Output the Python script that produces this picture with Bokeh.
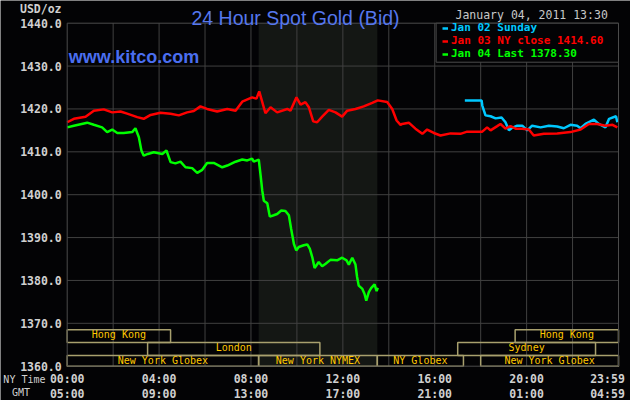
from bokeh.plotting import figure
from bokeh.models import Label, Legend, LegendItem
from bokeh.core.properties import value
from bokeh.embed import file_html
from bokeh.resources import INLINE

# ---------------- data (hours after 00:00 NY time, USD/oz) ----------------
jan02_h = [17.31, 18.04, 18.07, 18.21, 18.43, 18.65, 18.91, 19.08, 19.23, 19.37,
           19.59, 19.81, 20.03, 20.24, 20.61, 20.97, 21.33, 21.62, 21.91, 22.20,
           22.35, 22.56, 22.93, 23.14, 23.43, 23.59, 23.89, 23.95]
jan02_v = [1422.0, 1422.0, 1420.8, 1418.5, 1418.3, 1417.8, 1418.0, 1416.9, 1415.0, 1415.6,
           1416.1, 1416.1, 1415.0, 1416.1, 1415.7, 1416.1, 1415.9, 1415.5, 1416.3, 1416.1,
           1415.5, 1416.5, 1417.5, 1416.5, 1415.7, 1417.7, 1418.3, 1416.9]

jan03_h = [0.00, 0.29, 0.80, 1.16, 1.59, 1.96, 2.32, 2.61, 3.05, 3.33,
           3.63, 4.06, 4.50, 4.86, 5.22, 5.51, 5.80, 6.09, 6.53, 6.97,
           7.33, 7.62, 8.05, 8.24, 8.36, 8.45, 8.63, 8.85, 9.14, 9.58,
           9.72, 9.98, 10.16, 10.37, 10.52, 10.71, 10.88, 11.10, 11.39, 11.68,
           11.97, 12.19, 12.55, 12.91, 13.28, 13.52, 13.93, 14.15, 14.34, 14.51,
           14.58, 14.87, 15.16, 15.46, 15.67, 15.96, 16.25, 16.69, 17.12, 17.41,
           18.07, 18.28, 18.43, 18.72, 18.86, 19.08, 19.30, 19.52, 19.81, 20.10,
           20.31, 20.75, 21.33, 21.91, 22.35, 22.71, 23.07, 23.43, 23.74, 23.95]
jan03_v = [1416.9, 1417.7, 1418.2, 1419.6, 1419.9, 1419.2, 1419.4, 1418.9, 1418.1, 1417.7,
           1418.6, 1419.1, 1418.9, 1418.5, 1419.2, 1419.5, 1420.6, 1420.0, 1419.4, 1420.0,
           1419.6, 1421.7, 1422.7, 1422.4, 1424.1, 1422.4, 1419.0, 1420.4, 1419.2, 1420.0,
           1419.6, 1422.7, 1421.0, 1421.6, 1420.4, 1417.1, 1416.9, 1418.2, 1419.8, 1419.2,
           1418.2, 1419.6, 1420.0, 1420.6, 1421.4, 1422.0, 1421.6, 1420.0, 1417.3, 1416.3,
           1416.5, 1416.8, 1415.4, 1414.2, 1415.2, 1414.4, 1413.8, 1414.3, 1414.2, 1414.7,
           1414.7, 1415.7, 1415.0, 1416.0, 1416.5, 1415.4, 1416.0, 1415.4, 1415.4, 1415.2,
           1413.8, 1414.2, 1414.3, 1414.6, 1415.2, 1416.5, 1416.5, 1416.1, 1416.3, 1415.7]

jan04_h = [0.00, 0.29, 0.87, 1.16, 1.52, 1.74, 1.96, 2.18, 2.46, 2.83,
           2.97, 3.12, 3.23, 3.33, 3.51, 3.77, 4.14, 4.32, 4.50, 4.71,
           4.93, 5.15, 5.44, 5.66, 5.88, 6.09, 6.38, 6.75, 6.97, 7.33,
           7.62, 7.84, 8.05, 8.12, 8.34, 8.42, 8.49, 8.56, 8.71, 8.82,
           8.99, 9.14, 9.32, 9.50, 9.65, 9.75, 9.87, 9.97, 10.08, 10.30,
           10.45, 10.56, 10.67, 10.77, 10.95, 11.10, 11.25, 11.46, 11.75, 11.97,
           12.16, 12.26, 12.41, 12.55, 12.62, 12.69, 12.84, 12.94, 13.02, 13.13,
           13.23, 13.38, 13.47, 13.52]
jan04_v = [1415.7, 1416.1, 1416.8, 1416.3, 1415.7, 1414.6, 1415.2, 1414.4, 1414.4, 1414.6,
           1415.5, 1413.4, 1410.3, 1409.1, 1409.5, 1409.9, 1409.5, 1410.3, 1407.6, 1407.3,
           1407.7, 1406.4, 1406.2, 1405.1, 1405.8, 1407.4, 1407.4, 1406.4, 1406.8, 1407.7,
           1408.2, 1408.0, 1408.4, 1407.7, 1408.2, 1404.5, 1401.0, 1398.6, 1398.0, 1394.9,
           1395.2, 1395.5, 1396.3, 1396.2, 1395.2, 1392.0, 1388.5, 1387.0, 1387.8, 1388.2,
           1388.4, 1387.4, 1385.4, 1382.9, 1384.3, 1383.3, 1383.9, 1384.8, 1384.7, 1385.3,
           1384.7, 1383.7, 1385.3, 1383.7, 1380.8, 1378.8, 1378.1, 1376.9, 1375.3, 1377.3,
           1378.2, 1379.1, 1377.5, 1378.3]

series_labels = ["Jan 02 Sunday", "Jan 03 NY close 1414.60", "Jan 04 Last 1378.30"]
series_colors = ["#00c8ff", "#ff0000", "#00ff00"]

# trading sessions (hours NY time); row 0 = top row
sess_names = ["Hong Kong", "Hong Kong", "London", "Sydney",
              "New York Globex", "New York NYMEX", "NY Globex", "New York Globex"]
sess_start = [0.0, 19.5, 3.5, 17.0, 0.0, 8.333, 13.5, 18.0]
sess_end = [4.5, 24.0, 11.0, 23.0, 8.333, 13.5, 17.25, 24.0]
sess_row = [0, 0, 1, 1, 2, 2, 2, 2]
row_top = [1368.5, 1365.5, 1362.5]
row_bottom = [1365.5, 1362.5, 1360.0]
row_text_y = [1367.3, 1364.3, 1361.3]
nymex_open, nymex_close = 8.333, 13.5

# axes
x_min, x_max = 0.0, 24.0
y_min, y_max = 1360.0, 1440.0
y_ticks = [1360, 1370, 1380, 1390, 1400, 1410, 1420, 1430, 1440]
x_ticks = [0, 4, 8, 12, 16, 20, 24]
ny_labels = ["00:00", "04:00", "08:00", "12:00", "16:00", "20:00", "23:59"]
gmt_labels = ["05:00", "09:00", "13:00", "17:00", "21:00", "01:00", "04:59"]
x_grid = [2, 4, 6, 8, 10, 12, 14, 16, 18, 20, 22]
y_grid = [1370, 1380, 1390, 1400, 1410, 1420, 1430]

# ---------------- layout constants (pixels) ----------------
W, H = 630, 400
PX_H = 22.97        # pixels per hour
PX_V = 4.2875       # pixels per USD
LEFT, RIGHT, TOP, BOTTOM = 66.7, 12.0, 22.7, 34.3   # margins around the chart box

MONO = "DejaVu Sans Mono"
SANS = "Liberation Sans"
GRID = "#404040"
TICK = "#d0d0d0"
BG = "#030305"

p = figure(width=W, height=H,
           x_range=(x_min - LEFT / PX_H, x_max + RIGHT / PX_H),
           y_range=(y_min - BOTTOM / PX_V, y_max + TOP / PX_V),
           output_backend="svg", toolbar_location=None, title=None,
           x_axis_location=None, y_axis_location=None,
           background_fill_color=BG, border_fill_color=BG,
           min_border=0, min_border_left=0, min_border_right=0,
           min_border_top=0, min_border_bottom=0, outline_line_color=None)
p.grid.visible = False

# NYMEX shading
p.quad(left=[nymex_open], right=[nymex_close], bottom=[y_min], top=[y_max],
       fill_color="#141714", line_color=None)

# grid
p.segment(x0=x_grid, x1=x_grid, y0=[y_min] * len(x_grid), y1=[y_max] * len(x_grid),
          line_color=GRID, line_width=1)
p.segment(x0=[x_min] * len(y_grid), x1=[x_max] * len(y_grid), y0=y_grid, y1=y_grid,
          line_color=GRID, line_width=1)

# price lines
r02 = p.line(jan02_h, jan02_v, line_color=series_colors[0], line_width=2.5)
r03 = p.line(jan03_h, jan03_v, line_color=series_colors[1], line_width=2.5)
r04 = p.line(jan04_h, jan04_v, line_color=series_colors[2], line_width=2.5)

# session boxes
p.quad(left=sess_start, right=sess_end,
       top=[row_top[r] for r in sess_row], bottom=[row_bottom[r] for r in sess_row],
       fill_color=None, line_color="#a8a06e", line_width=1.5)
p.text(x=[(a + b) / 2 for a, b in zip(sess_start, sess_end)],
       y=[row_text_y[r] for r in sess_row], text=sess_names,
       text_font=value(MONO), text_font_size="10px", text_color="#ffc800",
       text_align="center", text_baseline="middle")

# chart border
p.quad(left=[x_min], right=[x_max], bottom=[y_min], top=[y_max],
       fill_color=None, line_color="#4c4c4c", line_width=1)

# y tick labels
p.text(x=[x_min] * len(y_ticks), y=y_ticks, text=[f"{t:.1f}" for t in y_ticks],
       x_offset=-5.5, text_font=value(MONO), text_font_size="11.5px",
       text_font_style="bold", text_color=TICK, text_align="right", text_baseline="middle")

# x tick labels: NY time and GMT rows
last_shift = [0, 0, 0, 0, 0, 0, -11]
p.text(x=x_ticks, y=[y_min] * len(x_ticks), text=ny_labels, x_offset=last_shift,
       y_offset=12.6, text_font=value(MONO), text_font_size="11.5px",
       text_font_style="bold", text_color=TICK, text_align="center", text_baseline="middle")
p.text(x=x_ticks, y=[y_min] * len(x_ticks), text=gmt_labels, x_offset=last_shift,
       y_offset=27.6, text_font=value(MONO), text_font_size="11.5px",
       text_font_style="bold", text_color=TICK, text_align="center", text_baseline="middle")

# legend box
p.quad(left=[16.06], right=[x_max], bottom=[1430.9], top=[y_max],
       fill_color=BG, line_color="#4c4c4c", line_width=1)
row_centers = [28.3, 41.3, 54.3]   # px from the top of the picture
for r, lab, col, c in zip((r02, r03, r04), series_labels, series_colors, row_centers):
    lg = Legend(items=[LegendItem(label=value(lab), renderers=[r])],
                location=(442, H - c - 6), glyph_width=6, glyph_height=12,
                label_height=12, label_standoff=3, padding=0, margin=0, spacing=0,
                background_fill_alpha=0, border_line_alpha=0,
                label_text_color=col, label_text_font=MONO,
                label_text_font_size="11px", label_text_font_style="bold")
    p.add_layout(lg)


def add_label(text, x, y, align, baseline, size, color, font, style="normal"):
    p.add_layout(Label(x=x, y=H - y, x_units="screen", y_units="screen", text=text,
                       text_align=align, text_baseline=baseline, text_font_size=size,
                       text_color=color, text_font=font, text_font_style=style))


add_label("24 Hour Spot Gold (Bid)", 295, 17.3, "center", "alphabetic", "19.5px", "#5577ee", SANS)
add_label("USD/oz", 61, 8, "right", "middle", "11.5px", TICK, MONO, "bold")
add_label("January 04, 2011 13:30", 455, 14.8, "left", "middle", "11.5px", "#c8c8c8", MONO)
add_label("www.kitco.com", 68.3, 56, "left", "alphabetic", "18px", "#4a6ef0", SANS, "bold")
add_label("NY Time", 45, 378.5, "right", "middle", "10px", TICK, MONO)
add_label("GMT", 20.5, 392, "center", "middle", "10px", TICK, MONO)

open("out.html", "w").write(file_html(p, INLINE))
